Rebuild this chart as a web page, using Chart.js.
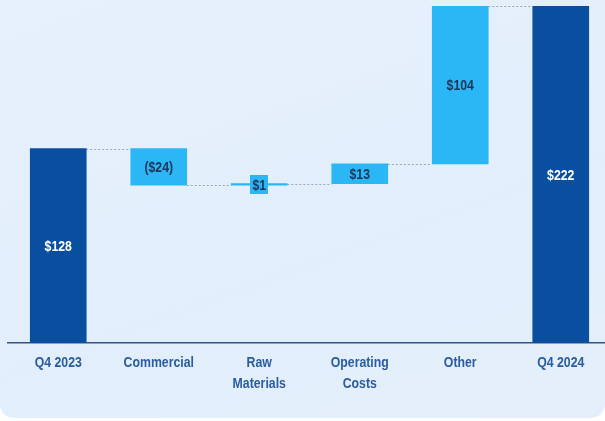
<!DOCTYPE html>
<html lang="en">
<head>
<meta charset="UTF-8">
<title>Q4 2023 to Q4 2024 bridge</title>
<script src="https://cdn.jsdelivr.net/npm/chart.js"></script>
<style>
    html, body {
        margin: 0;
        padding: 0;
        background: #ffffff;
        overflow: hidden;
    }

    /* light blue card behind the chart, only the lower corners show */
    .panel {
        position: absolute;
        left: 0;
        top: -20px;
        width: 605px;
        height: 438px;
        border-radius: 14px;
        background: linear-gradient(160deg, #e6f1fc 0%, #e2eefb 60%, #e4effb 100%);
    }

    .chart-box {
        position: absolute;
        left: 0;
        top: 0;
        width: 620px;
        height: 421px;
    }
</style>
</head>
<body>
<div class="panel"></div>
<div class="chart-box">
    <canvas id="bridgeChart"></canvas>
</div>

<script>
    // bridge data
    const categories = ['Q4 2023', 'Commercial', ['Raw', 'Materials'], ['Operating', 'Costs'], 'Other', 'Q4 2024'];
    const changes = [128, -24, 1, 13, 104, 222];
    const isTotal = [true, false, false, false, false, true];

    const TOTAL_COLOR = '#0a4f9f';
    const STEP_COLOR = '#2bb6f5';
    const FONT = "bold 15px 'Liberation Sans', Arial, sans-serif";
    const NARROW = 0.82; // squeeze Arial-style text into a narrow face

    // floating [start, end] pairs for each bar, plus the running level after each one
    const ranges = [];
    const levels = [];
    let running = 0;
    changes.forEach((v, i) => {
        if (isTotal[i]) {
            ranges.push([0, v]);
            running = v;
        } else {
            ranges.push([running, running + v]);
            running += v;
        }
        levels.push(running);
    });

    function money(v) {
        return v < 0 ? '($' + (-v) + ')' : '$' + v;
    }

    function narrowText(ctx, text, x, y) {
        ctx.save();
        ctx.translate(x, y);
        ctx.scale(NARROW, 1);
        ctx.fillText(text, 0, 0);
        ctx.restore();
    }

    // dotted connectors between neighbouring bars
    const connectorPlugin = {
        id: 'connectors',
        beforeDatasetsDraw(chart) {
            const ctx = chart.ctx;
            const meta = chart.getDatasetMeta(0);
            const yScale = chart.scales.y;
            ctx.save();
            ctx.strokeStyle = '#9ea7b1';
            ctx.lineWidth = 1;
            ctx.setLineDash([2, 2]);
            for (let i = 0; i < meta.data.length - 1; i++) {
                const a = meta.data[i];
                const b = meta.data[i + 1];
                const y = Math.round(yScale.getPixelForValue(levels[i])) + 0.5;
                ctx.beginPath();
                ctx.moveTo(a.x + a.width / 2, y);
                ctx.lineTo(b.x - b.width / 2, y);
                ctx.stroke();
            }
            ctx.restore();
        }
    };

    // value labels in the middle of each bar, category names under the axis
    const textPlugin = {
        id: 'texts',
        afterDatasetsDraw(chart) {
            const ctx = chart.ctx;
            const meta = chart.getDatasetMeta(0);
            const xScale = chart.scales.x;
            ctx.save();
            ctx.font = FONT;
            ctx.textAlign = 'center';
            ctx.textBaseline = 'middle';
            meta.data.forEach((bar, i) => {
                const text = money(changes[i]);
                const mid = (bar.y + bar.base) / 2;
                if (Math.abs(bar.base - bar.y) < 6) {
                    // bar too thin for the text, give it a small tab
                    const w = ctx.measureText(text).width * NARROW;
                    ctx.fillStyle = STEP_COLOR;
                    ctx.fillRect(Math.round(bar.x - w / 2 - 2), Math.round(mid - 9.5), Math.round(w + 4), 19);
                }
                ctx.fillStyle = isTotal[i] ? '#ffffff' : '#1c3659';
                narrowText(ctx, text, bar.x, mid + 1);
            });

            ctx.fillStyle = '#2b5c9e';
            categories.forEach((label, i) => {
                const x = xScale.getPixelForTick(i);
                const lines = Array.isArray(label) ? label : [label];
                lines.forEach((line, j) => {
                    narrowText(ctx, line, x, xScale.top + 20 + j * 21);
                });
            });
            ctx.restore();
        }
    };

    new Chart(document.getElementById('bridgeChart'), {
        type: 'bar',
        data: {
            labels: categories,
            datasets: [{
                data: ranges,
                backgroundColor: isTotal.map(t => t ? TOTAL_COLOR : STEP_COLOR),
                borderWidth: 0,
                borderSkipped: false,
                barThickness: 56
            }]
        },
        options: {
            responsive: true,
            maintainAspectRatio: false,
            animation: false,
            layout: {
                padding: { left: 8, right: 9, top: 6, bottom: 0 }
            },
            plugins: {
                legend: { display: false },
                tooltip: { enabled: false }
            },
            scales: {
                x: {
                    grid: { display: false, drawTicks: false },
                    border: { display: true, color: '#2e5786', width: 1.5 },
                    ticks: { display: false },
                    afterFit(scale) {
                        scale.height = 78;
                    }
                },
                y: {
                    display: false,
                    min: 0,
                    max: 222
                }
            }
        },
        plugins: [connectorPlugin, textPlugin]
    });
</script>
</body>
</html>
